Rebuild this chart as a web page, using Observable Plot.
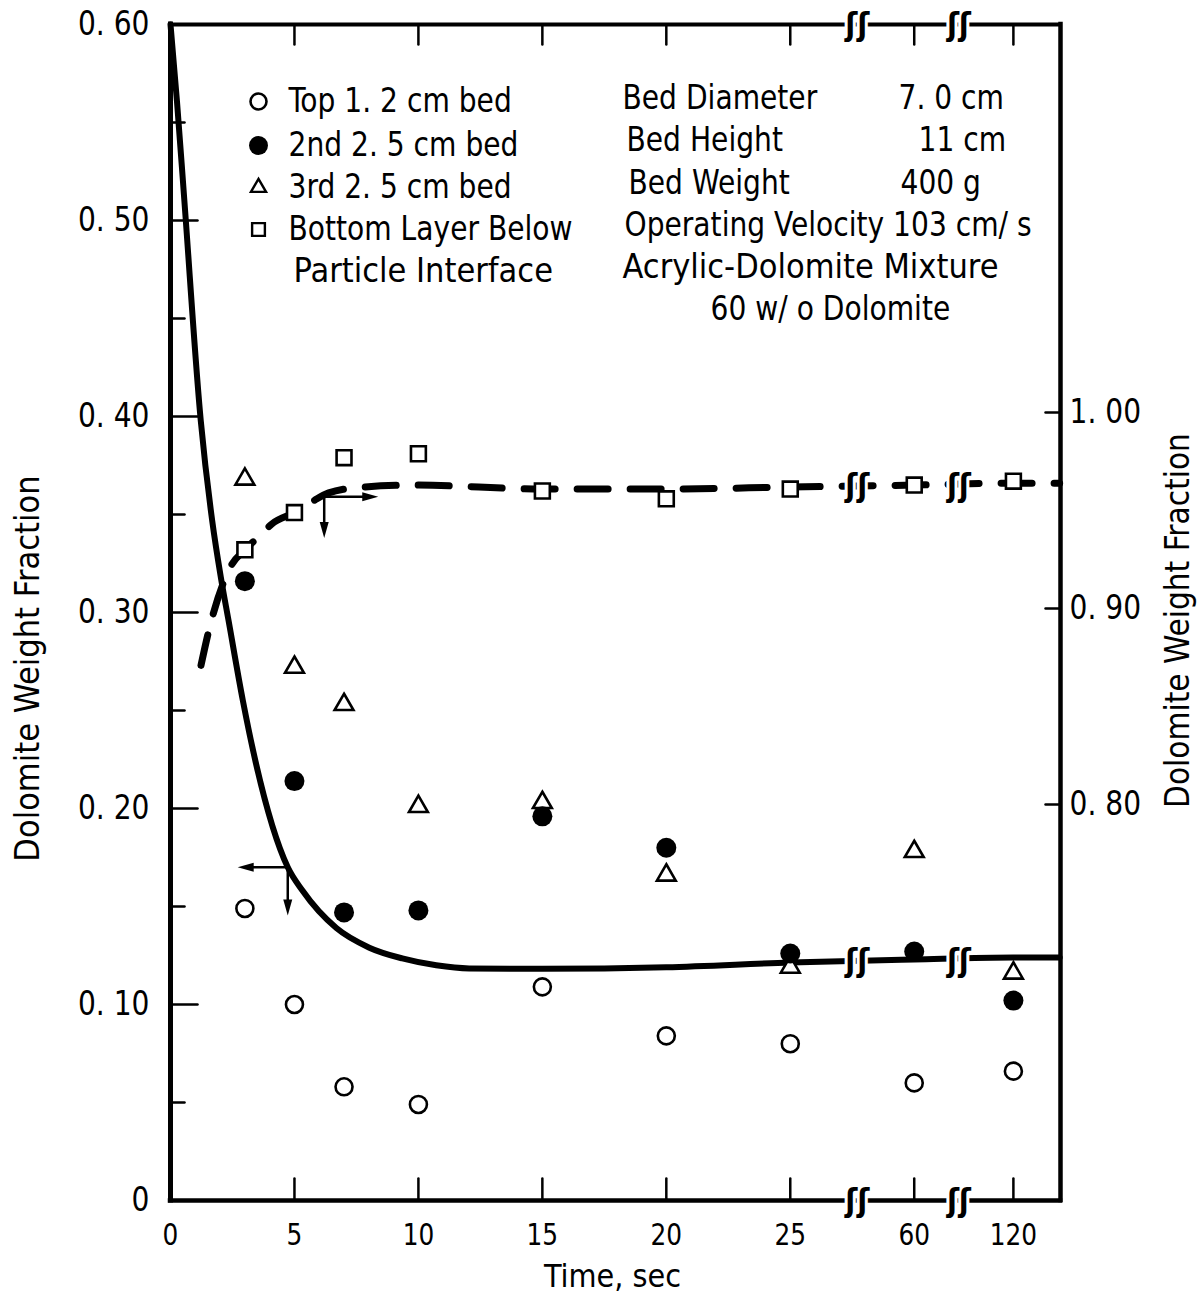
<!DOCTYPE html>
<html>
<head>
<meta charset="utf-8">
<script src="https://cdn.jsdelivr.net/npm/d3@7"></script>
<script src="https://cdn.jsdelivr.net/npm/@observablehq/plot@0.6"></script>
<style>
  html, body { margin: 0; padding: 0; background: #fff; }
  #chart svg { display: block; }
</style>
</head>
<body>
<div id="chart"></div>
<script>
// ---------------- DATA ----------------
const times = [3, 5, 7, 10, 15, 20, 25, 60, 120];
// left axis (Dolomite weight fraction)
const topBed    = [0.149, 0.100, 0.058, 0.049, 0.109, 0.084, 0.080, 0.060, 0.066];
const secondBed = [0.316, 0.214, 0.147, 0.148, 0.196, 0.180, 0.126, 0.127, 0.102];
const thirdBed  = [0.368, 0.272, 0.253, 0.201, 0.203, 0.166, 0.119, 0.178, 0.116];
// right axis (Dolomite weight fraction)
const bottomLayer = [0.930, 0.949, 0.977, 0.979, 0.960, 0.956, 0.961, 0.963, 0.965];

// smooth curves
const solidT = [0, 0.26, 0.56, 1.22, 1.68, 2.03, 2.34, 2.92, 3.43, 4.73, 5.33, 6.69, 8.02, 9.35, 10.72, 12.05, 15, 20, 25, 60, 120, 148];
const solidV = [0.600, 0.561, 0.510, 0.398, 0.347, 0.318, 0.296, 0.255, 0.224, 0.170, 0.158, 0.139, 0.129, 0.1235, 0.120, 0.1184, 0.1182, 0.119, 0.1214, 0.123, 0.124, 0.124];
const dashT = [1.23, 1.57, 2.13, 2.45, 3.0, 3.67, 4.07, 5.0, 5.77, 6.38, 7.79, 9.85, 15, 20, 25, 60, 120, 148];
const dashV = [0.871, 0.890, 0.913, 0.922, 0.930, 0.938, 0.943, 0.949, 0.955, 0.959, 0.962, 0.963, 0.961, 0.961, 0.962, 0.963, 0.964, 0.964];

// axes
const xTickTimes  = [0, 5, 10, 15, 20, 25, 60, 120];
const xTickLabels = ["0", "5", "10", "15", "20", "25", "60", "120"];
const yTickValues = [0, 0.10, 0.20, 0.30, 0.40, 0.50, 0.60];
const yTickLabels = ["0", "0. 10", "0. 20", "0. 30", "0. 40", "0. 50", "0. 60"];
const yMinorTicks = [0.05, 0.15, 0.25, 0.35, 0.45, 0.55];
const rightTickValues = [0.80, 0.90, 1.00];
const rightTickLabels = ["0. 80", "0. 90", "1. 00"];

// legend / annotation texts
const legendLabels = ["Top 1. 2 cm bed", "2nd 2. 5 cm bed", "3rd 2. 5 cm bed", "Bottom Layer Below", "Particle Interface"];
const infoLabels = ["Bed Diameter", "Bed Height", "Bed Weight", "Operating Velocity 103 cm/ s", "Acrylic-Dolomite Mixture", "60 w/ o Dolomite"];
const infoValues = ["7. 0 cm", "11 cm", "400 g"];
const yTitle = "Dolomite Weight Fraction";
const xTitle = "Time, sec";

// axis-reading arrows (time, left-axis value) and (time, right-axis value)
const solidArrowFrom = [4.73, 0.170];
const solidArrowLeftTo = 2.71;
const solidArrowDownTo = 0.1454;
const dashArrowFrom = [6.2, 0.957];
const dashArrowRightTo = 8.38;
const dashArrowDownTo = 0.936;

// ---------------- SCALE HELPERS ----------------
const RIGHT_OFFSET = 0.598;             // right value = left value + offset
const toLeft = r => r - RIGHT_OFFSET;
// broken time axis: 0..25 linear, then 60 and 120 after breaks
const pos = t => t <= 25 ? t : t <= 60 ? 25 + (t - 25) * 5 / 35 : 30 + (t - 60) * 4 / 60;
const xMax = 35.9;
const breakPos = [27.7, 31.8];

const FONT = "'Liberation Sans Narrow', 'DejaVu Sans Condensed', 'Roboto Condensed', sans-serif";

const tickShape = { draw(ctx, l) { ctx.moveTo(0, 0); ctx.lineTo(0, -l); } };
const headShape = { draw(ctx, l) { ctx.moveTo(0, 0); ctx.lineTo(-4.5, l); ctx.lineTo(4.5, l); ctx.closePath(); } };

const series = (vals) => times.map((t, i) => ({x: pos(t), y: vals[i]}));
const solidCurve = solidT.map((t, i) => ({x: pos(t), y: solidV[i]}));
const dashCurve = dashT.map((t, i) => ({x: pos(t), y: toLeft(dashV[i])}));

const marks = [];

// curves
marks.push(Plot.line(solidCurve, {x: "x", y: "y", curve: "monotone-x", stroke: "black", strokeWidth: 6}));
marks.push(Plot.line(dashCurve, {x: "x", y: "y", curve: "monotone-x", stroke: "black", strokeWidth: 7,
  strokeDasharray: "31,22", strokeLinecap: "round"}));

// frame
marks.push(Plot.ruleX([0], {strokeWidth: 5, strokeLinecap: "square"}));
marks.push(Plot.ruleX([xMax], {strokeWidth: 4.5, strokeLinecap: "square"}));
marks.push(Plot.ruleY([0], {strokeWidth: 4.5, strokeLinecap: "square"}));
marks.push(Plot.ruleY([0.6], {strokeWidth: 4, strokeLinecap: "square"}));

// ticks
const xt = xTickTimes.filter(t => t > 0);
marks.push(Plot.vector(xt, {x: d => pos(d), y: () => 0, length: 22, rotate: 0, shape: tickShape, anchor: "start", strokeWidth: 2.5}));
marks.push(Plot.vector(xt, {x: d => pos(d), y: () => 0.6, length: 20, rotate: 180, shape: tickShape, anchor: "start", strokeWidth: 2.5}));
marks.push(Plot.vector(yTickValues.filter(v => v > 0 && v < 0.6), {x: () => 0, y: d => d, length: 27, rotate: 90, shape: tickShape, anchor: "start", strokeWidth: 2.5}));
marks.push(Plot.vector(yMinorTicks, {x: () => 0, y: d => d, length: 14, rotate: 90, shape: tickShape, anchor: "start", strokeWidth: 2.5}));
marks.push(Plot.vector(rightTickValues, {x: () => xMax, y: d => toLeft(d), length: 15, rotate: -90, shape: tickShape, anchor: "start", strokeWidth: 2.5}));

// tick labels
marks.push(Plot.text(xTickTimes, {x: d => pos(d), frameAnchor: "bottom", dy: 44, text: (d, i) => xTickLabels[i], fontSize: 30, fill: "black"}));
marks.push(Plot.text(yTickValues, {x: () => 0, y: d => d, dx: -21, text: (d, i) => yTickLabels[i], textAnchor: "end", fontSize: 34, fill: "black"}));
marks.push(Plot.text(rightTickValues, {x: () => xMax, y: d => toLeft(d), dx: 9, text: (d, i) => rightTickLabels[i], textAnchor: "start", fontSize: 34, fill: "black"}));

// axis breaks
const breakLevels = [0, 0.6, 0.1222, toLeft(0.9627)];
const breakMarks = breakPos.flatMap(bx => breakLevels.map(by => ({x: bx, y: by})));
marks.push(Plot.text(breakMarks, {x: "x", y: "y", text: () => "ʃʃ", fontSize: 32, fontWeight: "bold",
  fill: "black", stroke: "white", strokeWidth: 6}));

// arrows
marks.push(Plot.link([0], {x1: () => solidArrowFrom[0], y1: () => solidArrowFrom[1], x2: () => solidArrowLeftTo + 0.5, y2: () => solidArrowFrom[1], strokeWidth: 2.5}));
marks.push(Plot.link([0], {x1: () => solidArrowFrom[0], y1: () => solidArrowFrom[1], x2: () => solidArrowFrom[0], y2: () => solidArrowDownTo + 0.006, strokeWidth: 2.5}));
marks.push(Plot.vector([0], {x: () => solidArrowLeftTo, y: () => solidArrowFrom[1], length: 16, rotate: -90, shape: headShape, anchor: "start", fill: "black", strokeWidth: 1}));
marks.push(Plot.vector([0], {x: () => solidArrowFrom[0], y: () => solidArrowDownTo, length: 16, rotate: 180, shape: headShape, anchor: "start", fill: "black", strokeWidth: 1}));
marks.push(Plot.link([0], {x1: () => dashArrowFrom[0], y1: () => toLeft(dashArrowFrom[1]), x2: () => dashArrowRightTo - 0.5, y2: () => toLeft(dashArrowFrom[1]), strokeWidth: 2.5}));
marks.push(Plot.link([0], {x1: () => dashArrowFrom[0], y1: () => toLeft(dashArrowFrom[1]), x2: () => dashArrowFrom[0], y2: () => toLeft(dashArrowDownTo) + 0.006, strokeWidth: 2.5}));
marks.push(Plot.vector([0], {x: () => dashArrowRightTo, y: () => toLeft(dashArrowFrom[1]), length: 16, rotate: 90, shape: headShape, anchor: "start", fill: "black", strokeWidth: 1}));
marks.push(Plot.vector([0], {x: () => dashArrowFrom[0], y: () => toLeft(dashArrowDownTo), length: 16, rotate: 180, shape: headShape, anchor: "start", fill: "black", strokeWidth: 1}));

// data points
marks.push(Plot.dot(series(bottomLayer).map(d => ({x: d.x, y: toLeft(d.y)})), {x: "x", y: "y", symbol: "square", r: 8.4, fill: "white", stroke: "black", strokeWidth: 2.6}));
marks.push(Plot.dot(series(thirdBed), {x: "x", y: "y", symbol: "triangle", r: 7, fill: "white", stroke: "black", strokeWidth: 2.6}));
marks.push(Plot.dot(series(secondBed), {x: "x", y: "y", symbol: "circle", r: 10, fill: "black", stroke: "none"}));
marks.push(Plot.dot(series(topBed), {x: "x", y: "y", symbol: "circle", r: 8.5, fill: "white", stroke: "black", strokeWidth: 2.6}));

// legend (positioned relative to the top-left corner of the frame)
const legSym = [
  {symbol: "circle", r: 8, fill: "white", stroke: "black", strokeWidth: 2.6},
  {symbol: "circle", r: 9.5, fill: "black", stroke: "none"},
  {symbol: "triangle", r: 5.6, fill: "white", stroke: "black", strokeWidth: 2.4},
  {symbol: "square", r: 7.2, fill: "white", stroke: "black", strokeWidth: 2.4}
];
const legRowDy = [77, 121, 163, 205, 247];
legSym.forEach((s, i) => marks.push(Plot.dot([0], {x: () => 0, y: () => 0.6, dx: 88, dy: legRowDy[i], ...s})));
legendLabels.forEach((t, i) => marks.push(Plot.text([t], {x: () => 0, y: () => 0.6, dx: i === 4 ? 123 : 118, dy: legRowDy[i],
  text: d => d, textAnchor: "start", fontSize: 34, fill: "black"})));

const infoDx = [452, 456, 458, 454, 452, 540];
const infoDy = [74, 116, 159, 201, 243, 285];
infoLabels.forEach((t, i) => marks.push(Plot.text([t], {x: () => 0, y: () => 0.6, dx: infoDx[i], dy: infoDy[i],
  text: d => d, textAnchor: "start", fontSize: 34, fill: "black"})));
const valDx = [728, 748, 730];
infoValues.forEach((t, i) => marks.push(Plot.text([t], {x: () => 0, y: () => 0.6, dx: valDx[i], dy: infoDy[i],
  text: d => d, textAnchor: "start", fontSize: 34, fill: "black"})));

// axis titles
marks.push(Plot.text([yTitle], {frameAnchor: "left", dx: -142, dy: 56, rotate: -90, textAnchor: "middle", text: d => d, fontSize: 34, fill: "black"}));
marks.push(Plot.text([yTitle], {frameAnchor: "right", dx: 118, dy: 8, rotate: -90, textAnchor: "middle", text: d => d, fontSize: 33, fill: "black"}));
marks.push(Plot.text([xTitle], {frameAnchor: "bottom", dx: -3, dy: 86, textAnchor: "middle", text: d => d, fontSize: 32, fill: "black"}));

const chart = Plot.plot({
  width: 1203,
  height: 1299,
  marginLeft: 170,
  marginRight: 143,
  marginTop: 24,
  marginBottom: 99,
  style: {fontFamily: FONT, background: "white", color: "black", overflow: "visible"},
  x: {domain: [0, xMax], axis: null},
  y: {domain: [0, 0.6], axis: null},
  marks
});

// narrow the type face horizontally to match the condensed lettering of the original
const keepWidth = new Set(["Particle Interface", "Acrylic-Dolomite Mixture", yTitle, xTitle, "ʃʃ"]);
d3.select(chart).selectAll("text").each(function () {
  if (keepWidth.has(this.textContent)) return;
  const tr = this.getAttribute("transform") || "";
  this.setAttribute("transform", tr + " scale(0.92,1)");
});

document.getElementById("chart").appendChild(chart);
</script>
</body>
</html>
